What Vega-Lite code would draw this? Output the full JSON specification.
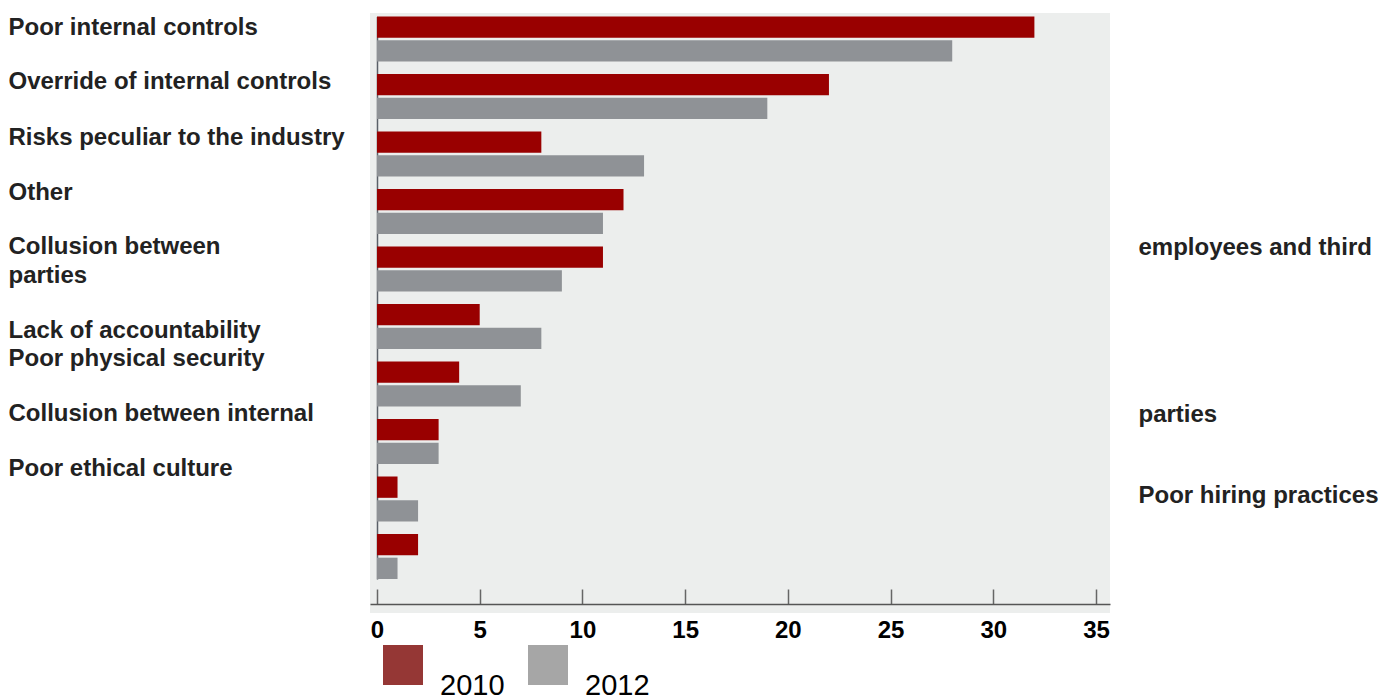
{
  "$schema": "https://vega.github.io/schema/vega-lite/v6.json",
  "width": 740,
  "height": 600,
  "autosize": {"type": "none"},
  "padding": {"left": 370, "top": 13, "right": 284, "bottom": 85},
  "background": "#ffffff",
  "config": {
    "view": {"fill": "#eceeed", "stroke": null},
    "font": "Liberation Sans"
  },
  "data": {
    "values": [
      {"cat": "Poor internal controls", "year": "2010", "value": 32},
      {"cat": "Poor internal controls", "year": "2012", "value": 28},
      {"cat": "Override of internal controls", "year": "2010", "value": 22},
      {"cat": "Override of internal controls", "year": "2012", "value": 19},
      {"cat": "Risks peculiar to the industry", "year": "2010", "value": 8},
      {"cat": "Risks peculiar to the industry", "year": "2012", "value": 13},
      {"cat": "Other", "year": "2010", "value": 12},
      {"cat": "Other", "year": "2012", "value": 11},
      {"cat": "Collusion between employees and third parties", "year": "2010", "value": 11},
      {"cat": "Collusion between employees and third parties", "year": "2012", "value": 9},
      {"cat": "Lack of accountability", "year": "2010", "value": 5},
      {"cat": "Lack of accountability", "year": "2012", "value": 8},
      {"cat": "Poor physical security", "year": "2010", "value": 4},
      {"cat": "Poor physical security", "year": "2012", "value": 7},
      {"cat": "Collusion between internal parties", "year": "2010", "value": 3},
      {"cat": "Collusion between internal parties", "year": "2012", "value": 3},
      {"cat": "Poor ethical culture", "year": "2010", "value": 1},
      {"cat": "Poor ethical culture", "year": "2012", "value": 2},
      {"cat": "Poor hiring practices", "year": "2010", "value": 2},
      {"cat": "Poor hiring practices", "year": "2012", "value": 1}
    ]
  },
  "resolve": {"axis": {"y": "independent"}},
  "layer": [
    {
      "mark": {"type": "bar"},
      "encoding": {
        "y": {
          "field": "cat",
          "type": "nominal",
          "sort": null,
          "scale": {"range": [3.5, 566], "paddingInner": 0.2174, "paddingOuter": 0},
          "axis": {
            "orient": "left",
            "title": null,
            "offset": -7,
            "domain": true,
            "domainColor": "#5a6068",
            "domainWidth": 1.5,
            "ticks": false,
            "tickSize": 0,
            "labelPadding": 369,
            "labelAlign": "left",
            "labelBaseline": "middle",
            "labelFont": "Liberation Sans",
            "labelFontWeight": "bold",
            "labelFontSize": 24,
            "labelColor": "#222222",
            "labelLimit": 400,
            "labelLineHeight": 29,
            "labelOverlap": false,
            "labelExpr": "datum.value == 'Collusion between employees and third parties' ? ['Collusion between', 'parties'] : datum.value == 'Collusion between internal parties' ? 'Collusion between internal' : datum.value == 'Poor hiring practices' ? '' : datum.value",
            "labelOffset": {
              "condition": [
                {"test": "datum.value == 'Poor internal controls'", "value": -11},
                {"test": "datum.value == 'Override of internal controls'", "value": -14.5},
                {"test": "datum.value == 'Risks peculiar to the industry'", "value": -16},
                {"test": "datum.value == 'Other'", "value": -18.5},
                {"test": "datum.value == 'Collusion between employees and third parties'", "value": -21.5},
                {"test": "datum.value == 'Lack of accountability'", "value": 4},
                {"test": "datum.value == 'Poor physical security'", "value": -25},
                {"test": "datum.value == 'Collusion between internal parties'", "value": -27.5},
                {"test": "datum.value == 'Poor ethical culture'", "value": -30}
              ],
              "value": 0
            }
          }
        },
        "yOffset": {
          "field": "year",
          "type": "nominal",
          "scale": {"paddingInner": 0.1, "paddingOuter": 0}
        },
        "x": {
          "field": "value",
          "type": "quantitative",
          "scale": {"domain": [-0.34, 35.68], "nice": false, "zero": false},
          "axis": {
            "orient": "bottom",
            "title": null,
            "values": [0, 5, 10, 15, 20, 25, 30, 35],
            "offset": -9,
            "grid": false,
            "domainColor": "#555555",
            "domainWidth": 1.5,
            "tickSize": -15,
            "tickColor": "#666666",
            "tickWidth": 1.5,
            "labelPadding": 29,
            "labelBaseline": "top",
            "labelFont": "Liberation Sans",
            "labelFontWeight": "bold",
            "labelFontSize": 24,
            "labelColor": "#000000",
            "labelFlush": false,
            "labelOverlap": false
          }
        },
        "fill": {
          "field": "year",
          "type": "nominal",
          "scale": {"domain": ["2010", "2012"], "range": ["#990000", "#8f9296"]},
          "legend": {
            "orient": "none",
            "legendX": 13,
            "legendY": 632,
            "direction": "horizontal",
            "title": null,
            "padding": 0,
            "symbolType": "square",
            "symbolSize": 1600,
            "symbolStrokeWidth": 0,
            "labelFont": "Liberation Sans",
            "labelFontSize": 29,
            "labelColor": "#000000",
            "labelBaseline": "top",
            "labelOffset": 17,
            "columnPadding": -7,
            "encode": {
              "symbols": {
                "update": {
                  "stroke": {"signal": "datum.value == '2010' ? '#953735' : '#a6a6a6'"},
                  "strokeWidth": {"value": 20},
                  "size": {"value": 400}
                }
              },
              "labels": {
                "update": {
                  "dy": {"value": 7}
                }
              }
            }
          }
        }
      }
    },
    {
      "mark": {"type": "bar", "opacity": 0},
      "encoding": {
        "y": {
          "field": "cat",
          "type": "nominal",
          "sort": null,
          "axis": {
            "orient": "right",
            "title": null,
            "domain": false,
            "ticks": false,
            "tickSize": 0,
            "labelPadding": 28,
            "labelAlign": "left",
            "labelBaseline": "middle",
            "labelFont": "Liberation Sans",
            "labelFontWeight": "bold",
            "labelFontSize": 24,
            "labelColor": "#222222",
            "labelLimit": 400,
            "labelOverlap": false,
            "labelExpr": "datum.value == 'Collusion between employees and third parties' ? 'employees and third' : datum.value == 'Collusion between internal parties' ? 'parties' : datum.value == 'Poor hiring practices' ? 'Poor hiring practices' : ''",
            "labelOffset": {
              "condition": [
                {"test": "datum.value == 'Collusion between employees and third parties'", "value": -20.9},
                {"test": "datum.value == 'Collusion between internal parties'", "value": -26.8},
                {"test": "datum.value == 'Poor hiring practices'", "value": -60.1}
              ],
              "value": 0
            }
          }
        },
        "yOffset": {"field": "year", "type": "nominal"},
        "x": {"field": "value", "type": "quantitative"}
      }
    }
  ]
}
